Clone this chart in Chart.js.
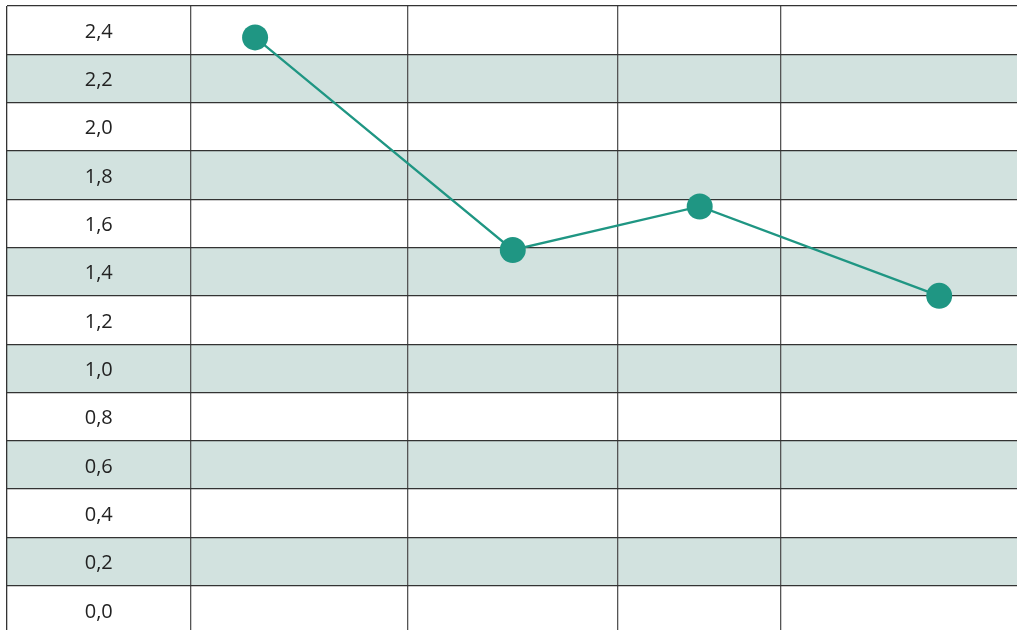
<!DOCTYPE html>
<html>
<head>
<meta charset="utf-8">
<script src="https://cdn.jsdelivr.net/npm/chart.js@4.4.1/dist/chart.umd.min.js"></script>
<style>
  html, body { margin: 0; padding: 0; background: #fff; overflow: hidden; }
  #wrap { width: 1017px; height: 634px; }
</style>
</head>
<body>
<div id="wrap"><canvas id="chart" width="1017" height="634"></canvas></div>
<script>
// row labels (values shown in the first column)
const yLabels = [2.4, 2.2, 2.0, 1.8, 1.6, 1.4, 1.2, 1.0, 0.8, 0.6, 0.4, 0.2, 0.0];
// shaded rows
const shadedRows = [2.2, 1.8, 1.4, 1.0, 0.6, 0.2];
// column edges, in % of table width
const columnEdges = [0, 18.26, 39.73, 60.5, 76.6, 100];
// series: horizontal position (% of width) and value
const pointX = [24.6, 50.1, 68.6, 92.3];
const pointY = [2.37, 1.49, 1.67, 1.30];

const COLORS = {
  line: "#1f9683",
  band: "#d2e2df",
  hgrid: "#333333",
  vgrid: "#555555",
  text: "#222222",
};

const tenths = (v) => Math.round(v * 10);

const tablePlugin = {
  id: "table",
  beforeDraw(chart) {
    const { ctx, chartArea, scales } = chart;
    ctx.save();
    ctx.fillStyle = COLORS.band;
    shadedRows.forEach(v => {
      const top = scales.y.getPixelForValue(v + 0.1);
      const bottom = scales.y.getPixelForValue(v - 0.1);
      ctx.fillRect(chartArea.left, top, chartArea.right - chartArea.left, bottom - top);
    });
    ctx.restore();
  },
  afterDatasetsDraw(chart) {
    const { ctx, scales } = chart;
    const cx = scales.x.getPixelForValue((columnEdges[0] + columnEdges[1]) / 2);
    ctx.save();
    ctx.fillStyle = COLORS.text;
    ctx.font = "20px 'Open Sans', sans-serif";
    ctx.textAlign = "center";
    ctx.textBaseline = "middle";
    yLabels.forEach(v => {
      ctx.fillText(v.toFixed(1).replace(".", ","), cx, scales.y.getPixelForValue(v) + 2);
    });
    ctx.restore();
  },
};

new Chart(document.getElementById("chart").getContext("2d"), {
  type: "line",
  data: {
    datasets: [{
      data: pointX.map((x, i) => ({ x, y: pointY[i] })),
      borderColor: COLORS.line,
      backgroundColor: COLORS.line,
      borderWidth: 2.3,
      pointRadius: 13,
      pointHoverRadius: 13,
      pointBorderWidth: 0,
      fill: false,
      tension: 0,
      clip: false,
    }],
  },
  options: {
    responsive: false,
    animation: false,
    layout: { autoPadding: false, padding: { left: 6.5, top: 6, right: 0, bottom: 0 } },
    plugins: { legend: { display: false }, tooltip: { enabled: false } },
    scales: {
      x: {
        type: "linear",
        min: 0,
        max: 100,
        afterBuildTicks: (s) => { s.ticks = columnEdges.map(value => ({ value })); },
        grid: {
          drawTicks: false,
          lineWidth: 1.3,
          color: (c) => {
            if (!c.tick) return COLORS.vgrid;
            if (c.tick.value === 0) return COLORS.hgrid;
            if (c.tick.value === 100) return "rgba(0,0,0,0)";
            return COLORS.vgrid;
          },
        },
        border: { display: false },
        ticks: { display: false },
      },
      y: {
        type: "linear",
        min: -0.1,
        max: 2.5,
        afterBuildTicks: (s) => {
          const t = [];
          for (let i = -1; i <= 25; i++) t.push({ value: i / 10 });
          s.ticks = t;
        },
        grid: {
          drawTicks: false,
          lineWidth: 1.3,
          color: (c) => c.tick && Math.abs(tenths(c.tick.value)) % 2 === 1 ? COLORS.hgrid : "rgba(0,0,0,0)",
        },
        border: { display: false },
        ticks: { display: false },
      },
    },
  },
  plugins: [tablePlugin],
});
</script>
</body>
</html>
